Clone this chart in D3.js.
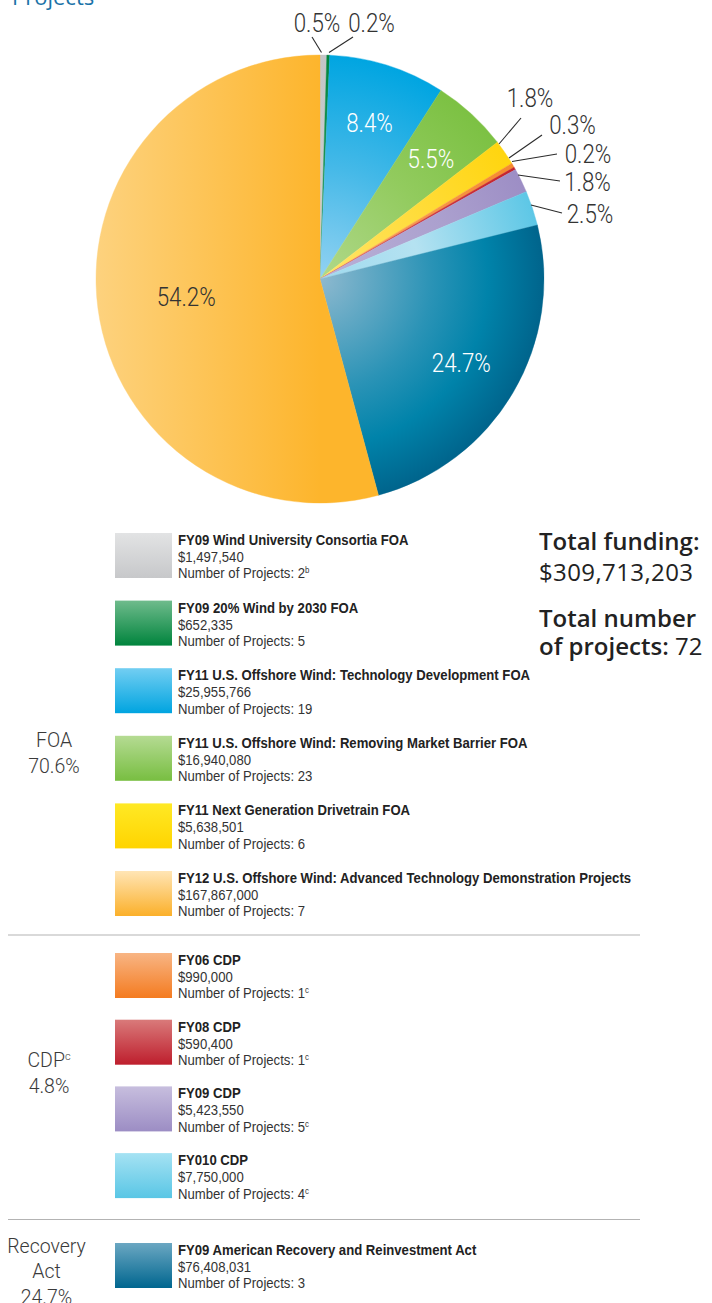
<!DOCTYPE html>
<html><head><meta charset="utf-8">
<script src="https://cdn.jsdelivr.net/npm/d3@7/dist/d3.min.js"></script>
<style>
html,body{margin:0;padding:0;background:#fff;}
svg{display:block;}
</style></head><body>
<svg id="chart" width="712" height="1303"></svg>
<script>
// ---------- DATA ----------
const programs = [
  "FY09 Wind University Consortia FOA",
  "FY09 20% Wind by 2030 FOA",
  "FY11 U.S. Offshore Wind: Technology Development FOA",
  "FY11 U.S. Offshore Wind: Removing Market Barrier FOA",
  "FY11 Next Generation Drivetrain FOA",
  "FY12 U.S. Offshore Wind: Advanced Technology Demonstration Projects",
  "FY06 CDP",
  "FY08 CDP",
  "FY09 CDP",
  "FY010 CDP",
  "FY09 American Recovery and Reinvestment Act"
];
const funding = [1497540, 652335, 25955766, 16940080, 5638501, 167867000, 990000, 590400, 5423550, 7750000, 76408031];
const projectCounts = [2, 5, 19, 23, 6, 7, 1, 1, 5, 4, 3];
const projectNotes = ["b", "", "", "", "", "", "c", "c", "c", "c", ""];
const groupNames = [["FOA"], ["CDP"], ["Recovery", "Act"]];
const groupNotes = ["", "c", ""];
const programGroup = [0, 0, 0, 0, 0, 0, 1, 1, 1, 1, 2];
const pieOrder = [0, 1, 2, 3, 4, 6, 7, 8, 9, 10, 5];   // clockwise from 12 o'clock
const totalProjects = 72;

// ---------- STYLES ----------
const swatchLight = ["#E2E3E4","#6FBB8C","#72CEF2","#B5DB93","#FFE925","#FFE5B5","#F8B584","#D97A7A","#C7BEDE","#A5E2F3","#6BA7C2"];
const swatchDark  = ["#C7C8CA","#00843D","#00A4E0","#78BE41","#FFD400","#FBB02A","#F47B20","#BE1E2D","#9C8DC4","#59C6E5","#00668F"];
const pieStops = [
  [[0,"#D0D1D3"],[1,"#C4C5C7"]],
  [[0,"#3AA36A"],[1,"#00843D"]],
  [[0,"#93D2F2"],[0.5,"#45B9E8"],[1,"#00A5E1"]],
  [[0,"#B0D88A"],[0.55,"#92CB5E"],[1,"#7CC143"]],
  [[0,"#FFE46A"],[1,"#FFD50F"]],
  null,
  [[0,"#F9A865"],[1,"#F58A2F"]],
  [[0,"#D9545A"],[1,"#C4232D"]],
  [[0,"#B9B0D7"],[0.6,"#ABA0CE"],[1,"#9D8EC5"]],
  [[0,"#9FDAEE"],[0.45,"#B5E2F1"],[1,"#5DC7E6"]],
  [[0,"#8EB9CF"],[0.5,"#2A93B6"],[0.75,"#0083AA"],[1,"#00648C"]]
];

const total = d3.sum(funding);
const pct = d3.format(".1%");
const money = d3.format("$,");

const svg = d3.select("#chart");
const defs = svg.append("defs");

// ---------- title fragment ----------
svg.append("text").attr("x", 12).attr("y", 5)
  .attr("font-family", "'Open Sans', sans-serif").attr("font-size", 22).attr("font-weight", 500)
  .attr("fill", "#1B73A8").text("Projects");

// ---------- PIE ----------
const cx = 320, cy = 279, R = 224;
const pie = d3.pie().sort(null).value(i => funding[i]);
const arcs = pie(pieOrder);
const arc = d3.arc().innerRadius(0).outerRadius(R);

pieStops.forEach((stops, i) => {
  let g;
  if (stops) {
    g = defs.append("radialGradient").attr("id", "pg" + i)
      .attr("gradientUnits", "userSpaceOnUse").attr("cx", 0).attr("cy", 0).attr("r", R);
  } else {
    g = defs.append("linearGradient").attr("id", "pg" + i)
      .attr("gradientUnits", "userSpaceOnUse").attr("x1", -R).attr("x2", 0).attr("y1", 0).attr("y2", 0);
    stops = [[0, "#FDD27E"], [1, "#FDB52C"]];
  }
  stops.forEach(s => g.append("stop").attr("offset", s[0]).attr("stop-color", s[1]));
});

const pg = svg.append("g").attr("transform", `translate(${cx},${cy})`);
pg.selectAll("path.slice").data(arcs).join("path")
  .attr("class", "slice")
  .attr("d", arc)
  .attr("fill", d => `url(#pg${d.data})`)
  .attr("stroke", d => `url(#pg${d.data})`).attr("stroke-width", 0.4);

// labels
const labelFont = "Roboto, 'Liberation Sans', sans-serif";
const squeeze = 0.86;
const inside = {2: 164, 3: 164, 10: 164, 5: 135};
const insideColor = {2: "#fff", 3: "#fff", 10: "#fff", 5: "#333"};
// outside: leader line and text anchor (center x, baseline y), relative to pie centre
const outside = {
  0: {end: [-8, -242], start: [1.5, -226.5], text: [-3, -247.5]},
  1: {end: [33, -242], start: [9, -226.5], text: [51.5, -247.5]},
  4: {end: [201, -161], start: [179, -135], text: [210, -172]},
  6: {end: [222, -144], start: [189, -121], text: [252.5, -145]},
  7: {end: [237, -125], start: [192, -117.5], text: [268, -116]},
  8: {end: [240, -98], start: [198, -104], text: [267.5, -88]},
  9: {end: [242, -66], start: [211, -74], text: [270, -56]}
};
const pieLabel = (x, y, txt, col) => pg.append("text")
  .attr("transform", `translate(${x},${y}) scale(${squeeze},1)`)
  .attr("text-anchor", "middle").attr("font-family", labelFont).attr("font-weight", 300)
  .attr("font-size", 26).attr("fill", col).text(txt);
arcs.forEach(d => {
  const i = d.data;
  const label = pct(funding[i] / total);
  const mid = (d.startAngle + d.endAngle) / 2;
  if (inside[i] !== undefined) {
    const r = inside[i];
    pieLabel(r * Math.sin(mid), -r * Math.cos(mid) + 9.5, label, insideColor[i]);
  } else {
    const o = outside[i];
    pg.append("line")
      .attr("x1", o.start[0]).attr("y1", o.start[1]).attr("x2", o.end[0]).attr("y2", o.end[1])
      .attr("stroke", "#2b2b2b").attr("stroke-width", 1.1);
    pieLabel(o.text[0], o.text[1], label, "#333");
  }
});

// ---------- LEGEND ----------
const legendFont = "'Liberation Sans', Arial, sans-serif";
const legendSqueeze = 0.876;
const rowTop = i => {
  if (i < 6) return 533 + i * 67.6;
  if (i < 10) return 953 + (i - 6) * 66.7;
  return 1243;
};
programs.forEach((p, i) => {
  const lg = defs.append("linearGradient").attr("id", "sw" + i)
    .attr("x1", 0).attr("x2", 0).attr("y1", 0).attr("y2", 1);
  lg.append("stop").attr("offset", 0).attr("stop-color", swatchLight[i]);
  lg.append("stop").attr("offset", 1).attr("stop-color", swatchDark[i]);
});
const rows = svg.append("g").selectAll("g.row").data(programs.map((p, i) => i)).join("g")
  .attr("class", "row").attr("transform", i => `translate(115,${rowTop(i)})`);
rows.append("rect").attr("width", 57).attr("height", 45).attr("fill", i => `url(#sw${i})`);
const tg = rows.append("g").attr("transform", `translate(63,0) scale(${legendSqueeze},1)`)
  .attr("font-family", legendFont).attr("font-size", 15);
tg.append("text").attr("x", 0).attr("y", 12).attr("font-weight", 700)
  .attr("fill", "#222").text(i => programs[i]);
tg.append("text").attr("x", 0).attr("y", 29)
  .attr("fill", "#333").text(i => money(funding[i]));
const np = tg.append("text").attr("x", 0).attr("y", 45.5).attr("fill", "#333");
np.append("tspan").text(i => "Number of Projects: " + projectCounts[i]);
np.append("tspan").attr("dy", -5).attr("font-size", 9).text(i => projectNotes[i]);

// dividers
[935, 1219.5].forEach(y => svg.append("line").attr("x1", 8).attr("x2", 640)
  .attr("y1", y).attr("y2", y).attr("stroke", "#b3b3b3").attr("stroke-width", 1.2));

// group labels
const groupShare = groupNames.map((g, k) =>
  d3.sum(funding.filter((f, i) => programGroup[i] === k)) / total);
const groupPos = [[54, 747], [49, 1067], [46.5, 1253]];
groupNames.forEach((lines, k) => {
  const t = svg.append("text").attr("text-anchor", "middle")
    .attr("font-family", labelFont).attr("font-weight", 300)
    .attr("font-size", 19.5).attr("fill", "#3a3a3a");
  lines.forEach((ln, j) => {
    t.append("tspan").attr("x", groupPos[k][0]).attr("y", groupPos[k][1] + j * 25).text(ln);
    if (j === lines.length - 1 && groupNotes[k]) {
      t.append("tspan").attr("dy", -7).attr("font-size", 11).text(groupNotes[k]);
    }
  });
  t.append("tspan").attr("x", groupPos[k][0]).attr("y", groupPos[k][1] + lines.length * 25 + 1)
    .text(pct(groupShare[k]));
});

// totals
const tf = "'Open Sans', sans-serif";
const tb = svg.append("g").attr("font-family", tf).attr("font-size", 24).attr("fill", "#222");
tb.append("text").attr("x", 539).attr("y", 550).attr("font-weight", 600).text("Total funding:");
tb.append("text").attr("x", 539).attr("y", 581).attr("letter-spacing", 0.4).text(money(total));
tb.append("text").attr("x", 539).attr("y", 627).attr("font-weight", 600).text("Total number");
const t2 = tb.append("text").attr("x", 539).attr("y", 655);
t2.append("tspan").attr("font-weight", 600).text("of projects: ");
t2.append("tspan").text(totalProjects);
</script>
</body></html>
